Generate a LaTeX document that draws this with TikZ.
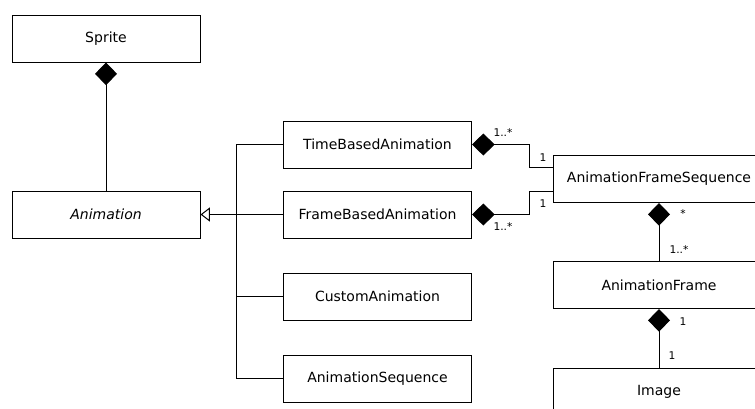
\documentclass[tikz,border=0pt]{standalone}
\usepackage{fontspec}
\setmainfont{DejaVu Sans}
\usetikzlibrary{arrows.meta,calc}
\begin{document}
\begin{tikzpicture}[x=0.75pt,y=-0.75pt,
  line width=0.75pt,
  cls/.style={draw, minimum width=188*0.75pt, minimum height=47*0.75pt,
    inner sep=0pt, font=\fontsize{10.5}{12}\selectfont},
  wcls/.style={cls, minimum width=212*0.75pt},
  comp/.style={{Diamond[length=17pt,width=16.5pt]}-},
  gen/.style={-{Triangle[open,length=7pt,width=10.5pt]}},
  mult/.style={font=\fontsize{8}{9}\selectfont, inner sep=0pt}]
\useasboundingbox (0,0) rectangle (755,408);
\clip (0,0) rectangle (755,408);

% classes
\node[cls] (sprite) at (106,38.5) {Sprite};
\node[cls] (anim) at (106,214.5) {\itshape Animation};
\node[cls] (tba) at (377.5,144.5) {TimeBasedAnimation};
\node[cls] (fba) at (377.5,214.5) {FrameBasedAnimation};
\node[cls] (ca) at (377.5,296.5) {CustomAnimation};
\node[cls] (as) at (377.5,378.5) {AnimationSequence};
\node[wcls] (afs) at (659,179) {AnimationFrameSequence};
\node[wcls] (af) at (659,285) {AnimationFrame};
\node[wcls] (img) at (659,391.5) {Image};

% Sprite owns Animation
\draw[comp] (sprite.south) -- (anim.north);

% generalisation tree
\draw[gen] (fba.west) -- (anim.east);
\draw (tba.west) -- ++(-47,0) coordinate (bustop);
\draw (as.west) -- ++(-47,0) coordinate (busbot);
\draw (bustop) -- (busbot);
\draw (ca.west) -- (ca.west -| bustop);

% animations own frame sequences
\coordinate (afsin1) at ($(afs.west)+(0,-12)$);
\coordinate (afsin2) at ($(afs.west)+(0,12)$);
\draw[comp] (tba.east) -| ($(afsin1)+(-23,0)$) -- (afsin1);
\draw[comp] (fba.east) -| ($(afsin2)+(-23,0)$) -- (afsin2);

% sequence -> frame -> image
\draw[comp] (afs.south) -- (af.north);
\draw[comp] (af.south) -- (img.north);

% multiplicities
\node[mult] at (503,133) {1..*};
\node[mult] at (543,158) {1};
\node[mult] at (543,204) {1};
\node[mult] at (503,227) {1..*};
\node[mult] at (683,214) {*};
\node[mult] at (679,250) {1..*};
\node[mult] at (683,322) {1};
\node[mult] at (672,356) {1};
\end{tikzpicture}
\end{document}
